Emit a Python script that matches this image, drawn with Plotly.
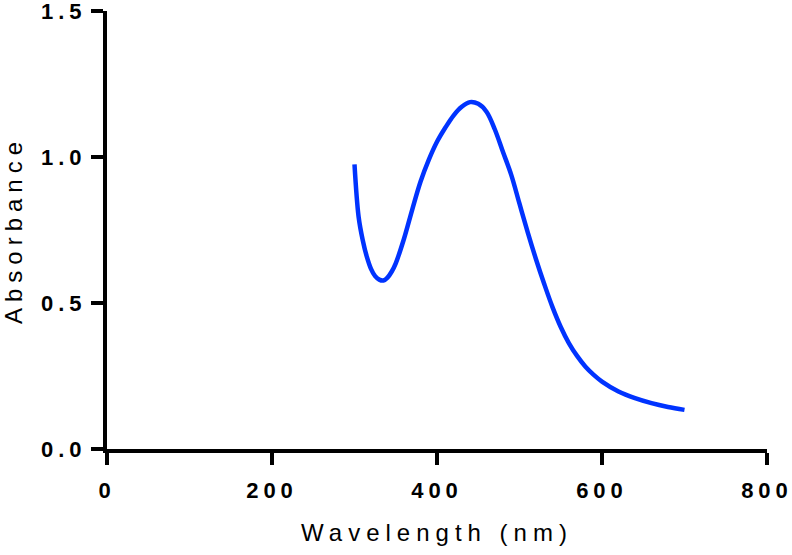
import plotly.graph_objects as go

# Absorbance spectrum
wavelength_nm = [300, 305, 310, 315, 320, 325, 330, 335, 340, 345, 350,
                 360, 370, 380, 390, 400, 410, 420, 430, 440, 450,
                 460, 470, 480, 490, 500, 510, 520, 530, 540, 550,
                 560, 570, 580, 590, 600, 620, 640, 660, 680, 700]
absorbance = [0.975, 0.795, 0.715, 0.658, 0.617, 0.592, 0.580, 0.577, 0.587, 0.607, 0.636,
              0.720, 0.820, 0.915, 0.990, 1.052, 1.100, 1.142, 1.172, 1.188, 1.182,
              1.155, 1.095, 1.017, 0.939, 0.840, 0.742, 0.650, 0.565, 0.486, 0.418,
              0.362, 0.318, 0.282, 0.254, 0.231, 0.197, 0.174, 0.157, 0.144, 0.134]

x_ticks = [0, 200, 400, 600, 800]
y_ticks = [0.0, 0.5, 1.0, 1.5]
y_tick_labels = ["0.0", "0.5", "1.0", "1.5"]

FONT = "Liberation Sans, Arial, Helvetica, sans-serif"

fig = go.Figure()
fig.add_trace(go.Scatter(
    x=wavelength_nm, y=absorbance, mode="lines",
    line=dict(color="#0033ff", width=4.5, shape="spline", smoothing=1.0),
    showlegend=False, hoverinfo="skip",
))

axis_common = dict(
    showline=True, linecolor="black", linewidth=4,
    ticks="outside", ticklen=12, tickwidth=4, tickcolor="black",
    showgrid=False, zeroline=False, automargin=False,
    ticklabeloverflow="allow",
    tickfont=dict(family=FONT, size=22, color="black", weight="bold"),
    title_font=dict(family=FONT, size=24, color="black"),
)

fig.update_xaxes(
    range=[0, 800.01], tickvals=x_ticks, ticktext=[str(v) for v in x_ticks],
    title_text="Wavelength (nm)", title_standoff=23, ticklabelstandoff=7,
    **axis_common,
)
fig.update_yaxes(
    range=[0, 1.50002], tickvals=y_ticks, ticktext=y_tick_labels,
    title_text="Absorbance", title_standoff=28, ticklabelstandoff=0,
    **axis_common,
)

fig.update_layout(
    width=792, height=555,
    margin=dict(l=107, r=25, t=11, b=106, pad=0),
    plot_bgcolor="white", paper_bgcolor="white",
    font=dict(family=FONT, color="black"),
)

css = ("body{margin:0;padding:0;overflow:hidden;} "
       ".xtick text,.ytick text{letter-spacing:5px;} .xtitle,.ytitle{letter-spacing:6px;}")
post = ("var s=document.createElement('style');s.innerHTML='" + css +
        "';document.head.appendChild(s);")

fig.write_html("out.html", post_script=post, config={"displayModeBar": False})
